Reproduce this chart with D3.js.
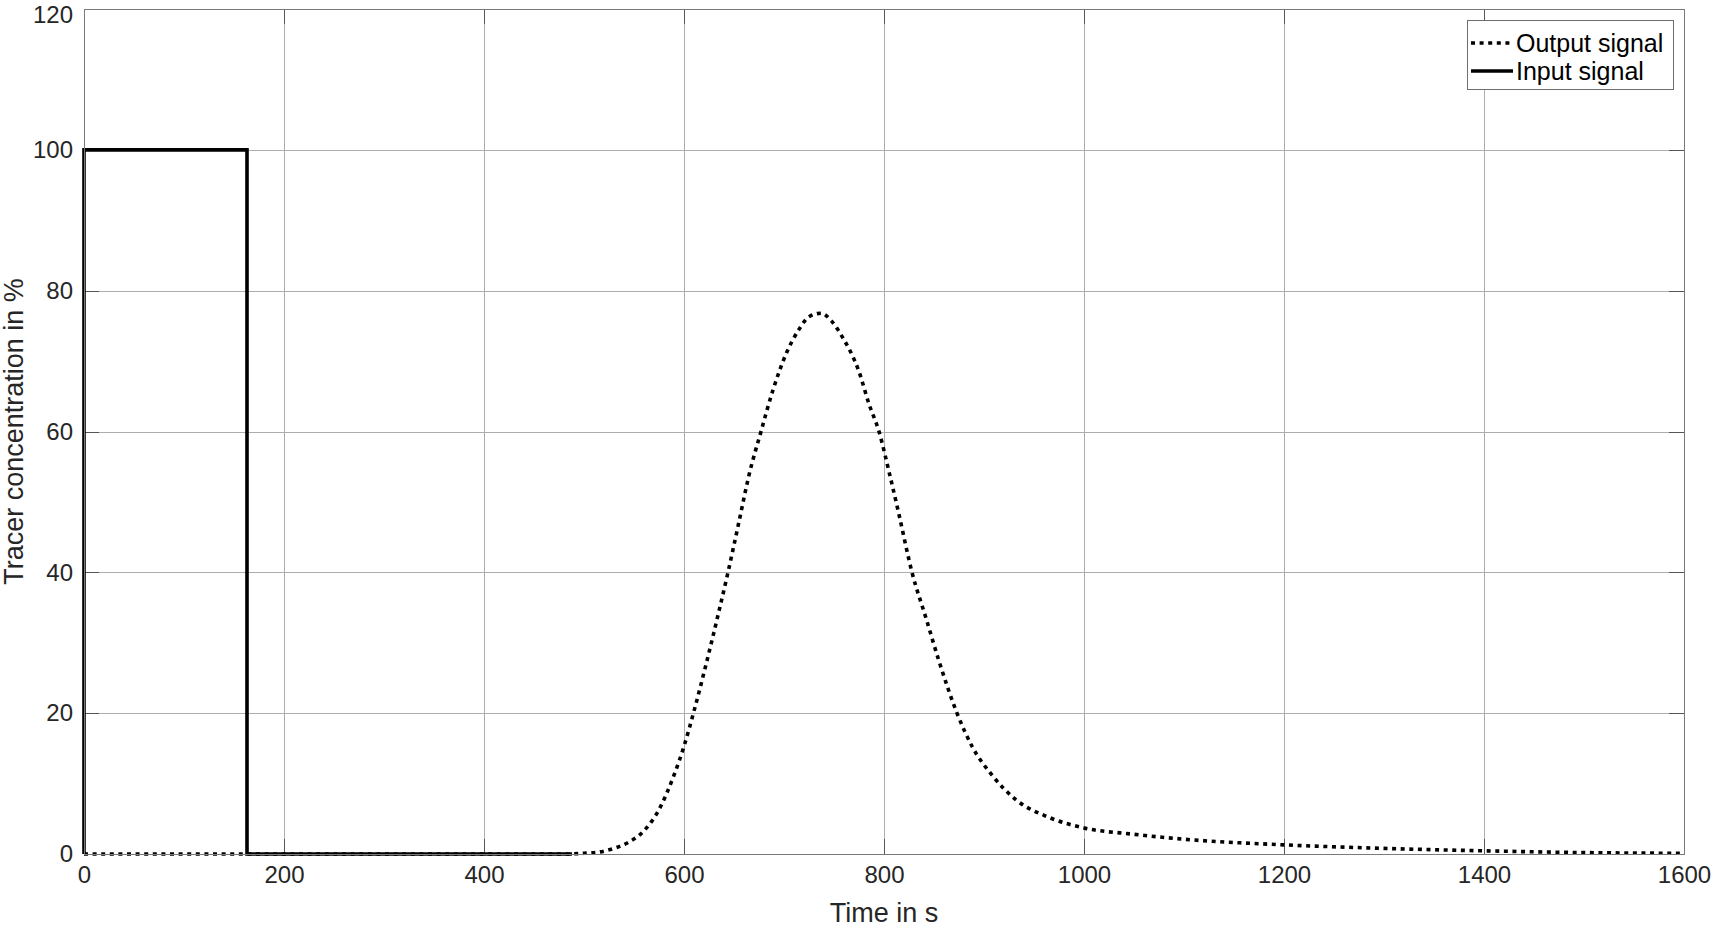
<!DOCTYPE html>
<html>
<head>
<meta charset="utf-8">
<script src="https://cdn.jsdelivr.net/npm/d3@7"></script>
<style>
  html, body { margin: 0; padding: 0; background: #fff; }
  svg { display: block; font-family: "Liberation Sans", Arial, sans-serif; }
</style>
</head>
<body>
<svg id="chart" width="1713" height="927"></svg>
<script>
// ---- data ----
const xTicks = [0, 200, 400, 600, 800, 1000, 1200, 1400, 1600];
const yTicks = [0, 20, 40, 60, 80, 100, 120];
const xLabel = "Time in s";
const yLabel = "Tracer concentration in %";
const seriesNames = ["Output signal", "Input signal"];

const inputTime  = [0, 0, 163, 163, 488];
const inputValue = [0, 100, 100, 0, 0];

const outputTime  = [0, 480, 500, 516, 530, 545, 560, 575, 590, 600, 610, 622, 635, 644, 655, 665, 677, 689, 702, 715, 725, 737, 748, 758, 775, 785, 795, 805, 815, 828, 842, 855, 873, 888, 908, 932, 965, 1000, 1050, 1100, 1200, 1300, 1400, 1500, 1600];
const outputValue = [0, 0, 0.1, 0.3, 0.8, 1.7, 3.3, 6.3, 11.2, 15.3, 20.3, 26.9, 34.5, 40, 47.2, 53.8, 60, 65.9, 71, 74.5, 76.3, 76.8, 75.6, 73.5, 68.5, 63.9, 60, 54.3, 48.2, 40, 33.5, 27.4, 20, 15.3, 11.2, 7.7, 5.2, 3.7, 2.8, 2.1, 1.3, 0.8, 0.45, 0.2, 0.1];

// ---- layout ----
const L = 84, R = 1684, T = 9, B = 854;
const svg = d3.select("#chart");
const x = d3.scaleLinear().domain([0, 1600]).range([L, R]);
const y = d3.scaleLinear().domain([0, 120]).range([B, T]);

// grid
const grid = svg.append("g");
grid.selectAll("line.gx").data(xTicks).join("line")
  .attr("x1", d => x(d) + 0.5).attr("x2", d => x(d) + 0.5)
  .attr("y1", T).attr("y2", B)
  .attr("stroke", "#adadad").attr("stroke-width", 1);
grid.selectAll("line.gy").data(yTicks).join("line")
  .attr("y1", d => Math.round(y(d)) + 0.5).attr("y2", d => Math.round(y(d)) + 0.5)
  .attr("x1", L).attr("x2", R)
  .attr("stroke", "#adadad").attr("stroke-width", 1);

// inward ticks on all sides
const tickLen = 15;
const tk = svg.append("g").attr("stroke", "#555").attr("stroke-width", 1);
xTicks.forEach(d => {
  tk.append("line").attr("x1", x(d) + 0.5).attr("x2", x(d) + 0.5).attr("y1", B).attr("y2", B - tickLen);
  tk.append("line").attr("x1", x(d) + 0.5).attr("x2", x(d) + 0.5).attr("y1", T).attr("y2", T + tickLen);
});
yTicks.forEach(d => {
  const yy = Math.round(y(d)) + 0.5;
  tk.append("line").attr("x1", L).attr("x2", L + tickLen).attr("y1", yy).attr("y2", yy);
  tk.append("line").attr("x1", R).attr("x2", R - tickLen).attr("y1", yy).attr("y2", yy);
});

// axes via d3 (labels only, domain/ticks hidden)
const xAxis = svg.append("g").attr("transform", `translate(0,${B})`)
  .call(d3.axisBottom(x).tickValues(xTicks).tickSize(0).tickPadding(12).tickFormat(d3.format("d")));
xAxis.select(".domain").remove();
xAxis.selectAll("text").attr("font-size", 24).attr("fill", "#262626")
  .attr("font-family", "Liberation Sans, Arial, sans-serif");

const yAxis = svg.append("g").attr("transform", `translate(${L},0)`)
  .call(d3.axisLeft(y).tickValues(yTicks).tickSize(0).tickPadding(11).tickFormat(d3.format("d")));
yAxis.select(".domain").remove();
yAxis.selectAll("text").attr("font-size", 24).attr("fill", "#262626")
  .attr("font-family", "Liberation Sans, Arial, sans-serif");
// keep the top label inside the canvas
yAxis.selectAll(".tick").filter(d => d === 120).select("text").attr("dy", "0.55em");

// data lines
const outLine = d3.line().x((d, i) => x(outputTime[i])).y((d, i) => y(outputValue[i])).curve(d3.curveMonotoneX);
const inLine = d3.line().x((d, i) => x(inputTime[i])).y((d, i) => y(inputValue[i]));

svg.append("path").datum(outputValue).attr("d", outLine)
  .attr("fill", "none").attr("stroke", "#000").attr("stroke-width", 3.6)
  .attr("stroke-dasharray", "4,4.6");
svg.append("path").datum(inputValue).attr("d", inLine)
  .attr("fill", "none").attr("stroke", "#000").attr("stroke-width", 3.6)
  .attr("stroke-linejoin", "miter");

// box
svg.append("rect").attr("x", L + 0.5).attr("y", T + 0.5).attr("width", R - L).attr("height", B - T)
  .attr("fill", "none").attr("stroke", "#7a7a7a").attr("stroke-width", 1);

// axis labels
svg.append("text").attr("x", (L + R) / 2).attr("y", 922).attr("text-anchor", "middle")
  .attr("font-size", 27).attr("fill", "#262626").text(xLabel);
svg.append("text").attr("transform", `translate(23,${(T + B) / 2}) rotate(-90)`)
  .attr("text-anchor", "middle").attr("font-size", 27).attr("fill", "#262626").text(yLabel);

// legend
const lg = svg.append("g");
lg.append("rect").attr("x", 1467.5).attr("y", 20.5).attr("width", 206).attr("height", 69)
  .attr("fill", "#fff").attr("stroke", "#6e6e6e").attr("stroke-width", 1);
const legY = [43, 71];
seriesNames.forEach((name, i) => {
  lg.append("line").attr("x1", 1471).attr("x2", 1513).attr("y1", legY[i]).attr("y2", legY[i])
    .attr("stroke", "#000").attr("stroke-width", 3.6)
    .attr("stroke-dasharray", i === 0 ? "4,4.6" : null);
  lg.append("text").attr("x", 1516).attr("y", legY[i] + 8.5).attr("font-size", 25)
    .attr("fill", "#000").text(name);
});
</script>
</body>
</html>
